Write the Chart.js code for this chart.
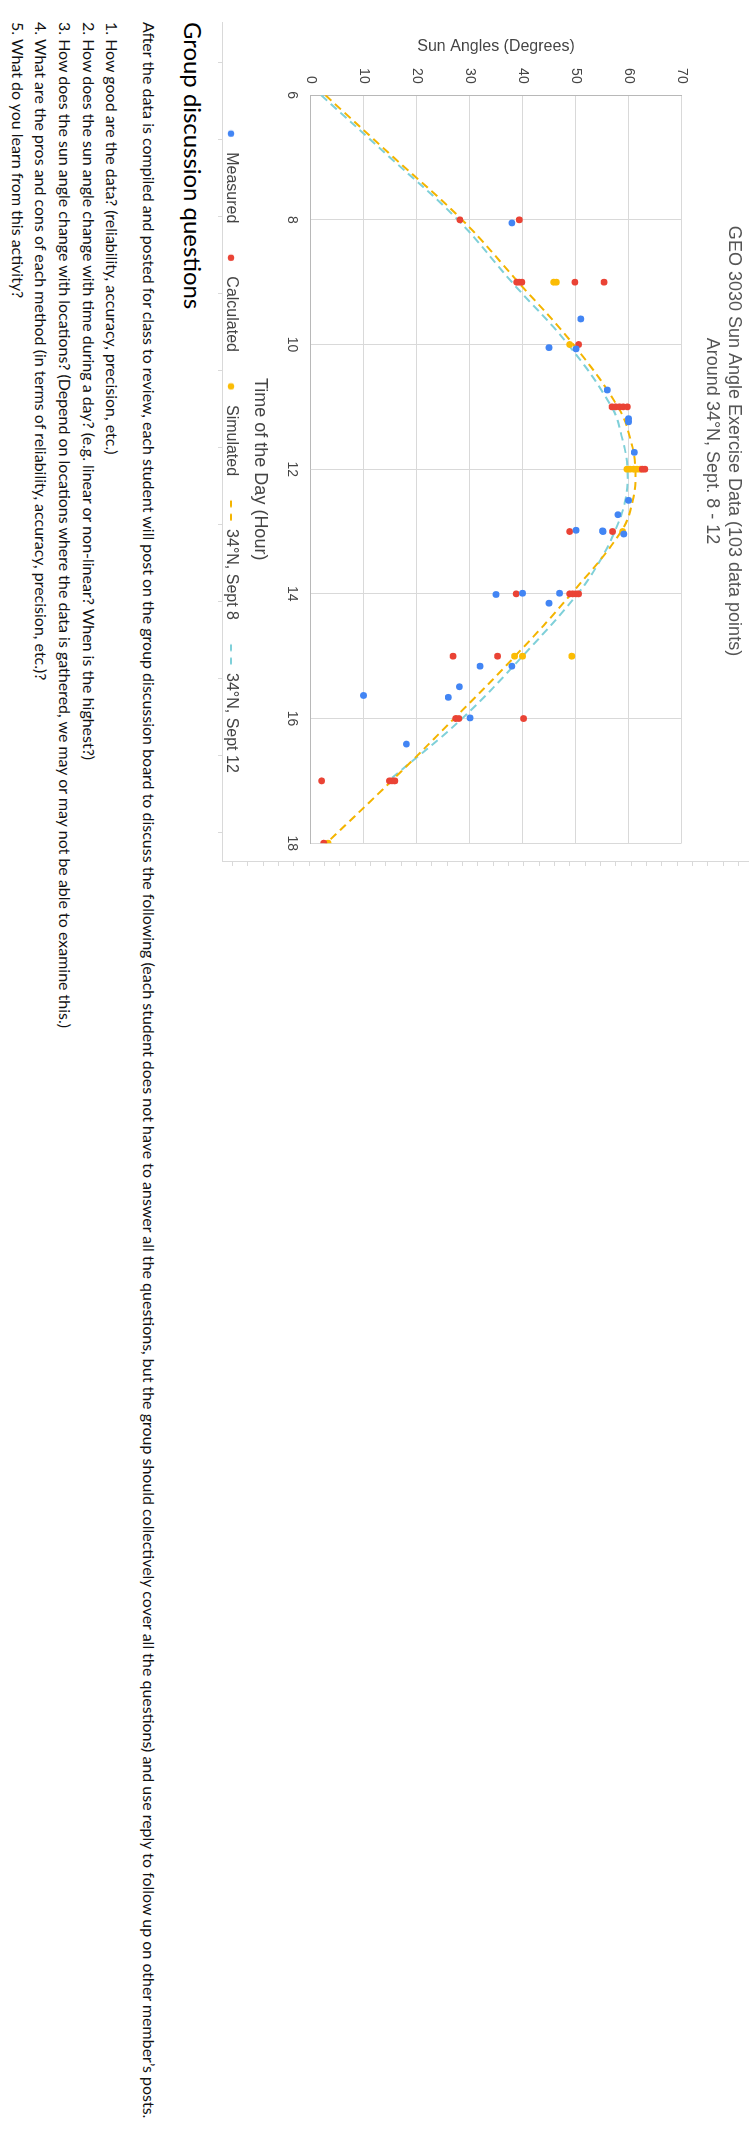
<!DOCTYPE html>
<html>
<head>
<meta charset="utf-8">
<script src="https://cdn.jsdelivr.net/npm/chart.js@4.4.1/dist/chart.umd.min.js"></script>
<style>
  html, body { margin: 0; padding: 0; background: #fff; }
  body { width: 752px; height: 2129px; overflow: hidden; position: relative; }
  #page {
    position: absolute; left: 0; top: 0; width: 2129px; height: 752px;
    transform-origin: 0 0; transform: translateX(752px) rotate(90deg);
  }
  #chartBox { position: absolute; left: 22px; top: 0; width: 839px; height: 539px; }
  .frameBottom { position: absolute; left: 22px; top: 529px; width: 839px; height: 1px; background: #d9d9d9; }
  .frameBottomTicks {
    position: absolute; left: 22px; top: 530px; width: 839px; height: 4px;
    background: repeating-linear-gradient(90deg, transparent 0, transparent 40px, #d9d9d9 40px, #d9d9d9 41px, transparent 41px, transparent 77px);
  }
  .frameRight { position: absolute; left: 861px; top: 3px; width: 1px; height: 527px; background: #d9d9d9; }
  .frameRightTicks {
    position: absolute; left: 862px; top: 3px; width: 4px; height: 527px;
    background: repeating-linear-gradient(0deg, transparent 0, transparent 10px, #d9d9d9 10px, #d9d9d9 11px, transparent 11px, transparent 15.33px);
  }
  .txt { position: absolute; left: 22px; white-space: nowrap; font-family: Lato, "Open Sans", sans-serif; color: #111; line-height: 1; }
  #heading { color: #000; }
</style>
</head>
<body>
<div id="page">
  <div id="chartBox"><canvas id="chart" width="839" height="539"></canvas></div>
  <div class="frameBottom"></div>
  <div class="frameBottomTicks"></div>
  <div class="frameRight"></div>
  <div class="frameRightTicks"></div>

  <div class="txt" id="heading">Group discussion questions</div>
  <div class="txt body" id="para">After the data is compiled and posted for class to review, each student will post on the group discussion board to discuss the following (each student does not have to answer all the questions, but the group should collectively cover all the questions) and use reply to follow up on other member’s posts.</div>
  <div class="txt body">1. How good are the data? (reliability, accuracy, precision, etc.)</div>
  <div class="txt body">2. How does the sun angle change with time during a day? (e.g. linear or non-linear? When is the highest?)</div>
  <div class="txt body">3. How does the sun angle change with locations? (Depend on locations where the data is gathered, we may or may not be able to examine this.)</div>
  <div class="txt body">4. What are the pros and cons of each method (in terms of reliability, accuracy, precision, etc.)?</div>
  <div class="txt body">5. What do you learn from this activity?</div>
</div>

<script>
// ---- data ----
const hourTicks = [6, 8, 10, 12, 14, 16, 18];
const angleTicks = [0, 10, 20, 30, 40, 50, 60, 70];

const measuredHours = [8.05, 9.59, 10.05, 10.07, 10.73, 11.19, 11.24, 11.73, 12.5, 12.73, 12.98, 12.99, 13.0, 13.04,
  13.99, 14.01, 13.99, 14.15, 15.16, 15.16, 15.49, 15.63, 15.66, 15.99, 16.41];
const measuredAngles = [38.0, 51.0, 45.0, 50.1, 56.0, 60.0, 60.0, 61.1, 60.0, 58.0, 50.1, 55.1, 55.2, 59.1,
  40.0, 35.0, 47.0, 45.0, 32.0, 38.0, 28.1, 10.0, 26.0, 30.1, 18.1];

const calculatedHours = [8, 8, 9, 9, 9, 9, 9, 10, 11, 11, 11, 11, 11, 12, 12, 13, 13,
  14, 14, 14, 14, 14, 15, 15, 16, 16, 16, 17, 17, 17, 17, 18];
const calculatedAngles = [28.2, 39.4, 38.9, 39.4, 39.9, 49.9, 55.4, 50.6, 56.9, 57.6, 58.3, 59.0, 59.8, 62.6, 63.1, 48.9, 57.0,
  38.8, 48.9, 49.5, 50.1, 50.6, 26.9, 35.3, 27.4, 28.0, 40.2, 2.1, 14.9, 15.4, 15.9, 2.5];

const simulatedHours = [9, 9, 10, 12, 12, 12, 12, 12, 13, 15, 15, 15, 18];
const simulatedAngles = [45.9, 46.4, 48.9, 59.7, 60.3, 61.0, 61.6, 62.2, 58.9, 38.5, 40.0, 49.3, 3.3];

const sept8Hours = [6, 7, 8, 9, 10, 11, 11.5, 12, 12.5, 13, 14, 15, 16, 17, 18];
const sept8Angles = [2.8, 15.7, 28.6, 39.2, 49.6, 58.0, 60.3, 61.3, 60.8, 58.6, 49.2, 38.6, 27.1, 15.3, 3.0];

const sept12Hours = [6, 7, 8, 9, 10, 11, 11.5, 12, 12.5, 13, 13.5, 14, 15, 16, 16.95];
const sept12Angles = [2.0, 15.0, 27.8, 38.0, 48.6, 56.8, 58.8, 59.8, 59.4, 57.4, 54.4, 50.4, 40.0, 28.6, 15.4];

const seriesNames = ['Measured', 'Calculated', 'Simulated', '34°N, Sept 8', '34°N, Sept 12'];
const seriesColors = ['#4285f4', '#ea4335', '#fbbc04', '#f4b400', '#7fd0d9'];

function toPoints(xs, ys) {
  return xs.map((x, i) => ({x: x, y: ys[i]}));
}

// legend icons: dots and dashed lines
function legendIcon(color, dashed) {
  const c = document.createElement('canvas');
  c.width = 40; c.height = 16;
  const g = c.getContext('2d');
  const cx = 27.9 - 1;
  if (dashed) {
    g.strokeStyle = color;
    g.lineWidth = 2.2;
    g.beginPath();
    g.moveTo(cx - 10, 8); g.lineTo(cx - 3.3, 8);
    g.moveTo(cx + 3.3, 8); g.lineTo(cx + 10, 8);
    g.stroke();
  } else {
    g.fillStyle = color;
    g.beginPath();
    g.arc(cx, 8, 3.2, 0, Math.PI * 2);
    g.fill();
  }
  return c;
}
const legendIcons = seriesColors.map((c, i) => legendIcon(c, i >= 3));

function scatterSet(i, xs, ys) {
  return {
    label: seriesNames[i],
    data: toPoints(xs, ys),
    backgroundColor: seriesColors[i],
    borderColor: seriesColors[i],
    pointRadius: 3.4,
    pointBorderWidth: 0,
    showLine: false
  };
}

function lineSet(i, xs, ys) {
  return {
    label: seriesNames[i],
    data: toPoints(xs, ys),
    borderColor: seriesColors[i],
    backgroundColor: seriesColors[i],
    borderWidth: 2,
    borderDash: [8, 5],
    pointRadius: 0,
    showLine: true,
    tension: 0.4
  };
}

Chart.defaults.font.family = "'Liberation Sans', Arial, sans-serif";

const config = {
  type: 'scatter',
  data: {
    datasets: [
      scatterSet(0, measuredHours, measuredAngles),
      scatterSet(1, calculatedHours, calculatedAngles),
      scatterSet(2, simulatedHours, simulatedAngles),
      lineSet(3, sept8Hours, sept8Angles),
      lineSet(4, sept12Hours, sept12Angles)
    ]
  },
  options: {
    responsive: false,
    animation: false,
    devicePixelRatio: 1,
    layout: { padding: { left: 13.5, right: 14.5, top: 0, bottom: 0 } },
    plugins: {
      tooltip: { enabled: false },
      title: {
        display: true,
        text: ['GEO 3030 Sun Angle Exercise Data (103 data points)', 'Around 34°N, Sept. 8 - 12'],
        color: '#555',
        font: { size: 18, weight: 'normal', lineHeight: 22 / 18 },
        padding: { top: 7, bottom: 19.5 }
      },
      legend: {
        position: 'bottom',
        labels: {
          usePointStyle: true,
          pointStyleWidth: 35,
          padding: 10,
          color: '#444',
          font: { size: 16 },
          generateLabels(chart) {
            const items = Chart.defaults.plugins.legend.labels.generateLabels(chart);
            items.forEach((it) => {
              it.pointStyle = legendIcons[it.datasetIndex];
              it.lineDash = [];
            });
            return items;
          }
        }
      }
    },
    scales: {
      x: {
        type: 'linear',
        min: hourTicks[0],
        max: hourTicks[hourTicks.length - 1],
        ticks: { stepSize: hourTicks[1] - hourTicks[0], padding: 10, color: '#444', font: { size: 14 } },
        grid: { color: '#d9d9d9', drawTicks: false },
        border: { color: '#b8b8b8' },
        title: {
          display: true,
          text: 'Time of the Day (Hour)',
          color: '#444',
          font: { size: 18 },
          padding: { top: 3.1, bottom: 0 }
        }
      },
      y: {
        min: angleTicks[0],
        max: angleTicks[angleTicks.length - 1],
        ticks: { stepSize: angleTicks[1] - angleTicks[0], padding: 11.5, color: '#444', font: { size: 14 } },
        grid: { color: '#d9d9d9', drawTicks: false },
        border: { color: '#b8b8b8' },
        title: {
          display: true,
          text: 'Sun Angles (Degrees)',
          color: '#444',
          font: { size: 16 },
          padding: { top: 1.9, bottom: 0 }
        }
      }
    }
  }
};

const ctx = document.getElementById('chart').getContext('2d');
const chart = new Chart(ctx, config);

// text block: fit sizes to the reference line lengths, place by baseline
function placeText() {
  const heading = document.getElementById('heading');
  heading.style.fontSize = '20px';
  heading.style.fontSize = (20 * 287 / heading.offsetWidth) + 'px';
  const hs = parseFloat(heading.style.fontSize);
  heading.style.top = (568 - 0.887 * hs) + 'px';

  const para = document.getElementById('para');
  para.style.fontSize = '14px';
  const fs = 14 * 2097 / para.offsetWidth;
  const baselines = [609.3, 646, 669.6, 693.2, 716.8, 740.4];
  document.querySelectorAll('.body').forEach((el, i) => {
    el.style.fontSize = fs + 'px';
    el.style.top = (baselines[i] - 0.887 * fs) + 'px';
  });
}
if (document.fonts && document.fonts.ready) {
  document.fonts.ready.then(placeText);
} else {
  placeText();
}
placeText();
</script>
</body>
</html>
